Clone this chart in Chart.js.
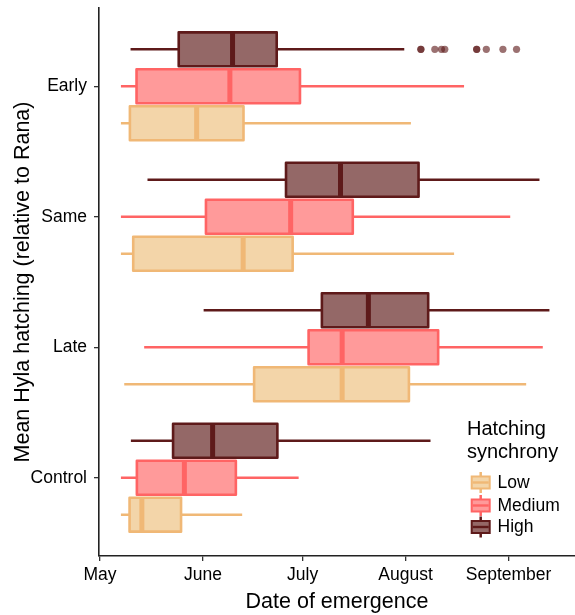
<!DOCTYPE html>
<html>
<head>
<meta charset="utf-8">
<script src="https://cdn.jsdelivr.net/npm/chart.js@4.4.1/dist/chart.umd.min.js"></script>
<style>
  html, body { margin: 0; padding: 0; background: #fff; }
  #wrap { width: 575px; height: 615px; position: relative; }
</style>
</head>
<body>
<div id="wrap"><canvas id="c" width="575" height="615"></canvas></div>
<script>
// Treatment groups, bottom to top on the y axis
const categories = ['Control', 'Late', 'Same', 'Early'];
const synchronyLevels = ['Low', 'Medium', 'High'];

// Month ticks: days since 1 May
const monthTickDays = [0, 31, 61, 92, 123];
const monthLabels = ['May', 'June', 'July', 'August', 'September'];

// Five-number summaries (days since 1 May): [lower whisker, Q1, median, Q3, upper whisker]
// one row per category, in the order of `categories`
const lowStats = [
  [6.3, 8.9, 12.6, 24.4, 42.8],
  [7.3, 46.4, 72.9, 93.0, 128.3],
  [6.3, 10.0, 43.1, 58.0, 106.6],
  [6.3, 9.0, 29.1, 43.2, 93.6]
];
const mediumStats = [
  [6.3, 11.1, 25.4, 40.9, 59.8],
  [13.3, 62.8, 72.9, 101.8, 133.3],
  [6.3, 31.9, 57.4, 76.1, 123.5],
  [6.3, 11.0, 39.1, 60.2, 109.6]
];
const highStats = [
  [9.3, 22.0, 33.9, 53.4, 99.5],
  [31.2, 66.8, 80.8, 98.8, 135.3],
  [14.3, 56.0, 72.4, 95.9, 132.3],
  [9.2, 23.7, 39.9, 53.2, 91.6]
];
// Outlying emergence dates for the High / Early group
const highEarlyOutliers = [96.6, 96.6, 100.8, 102.8, 103.8, 113.4, 113.4, 116.3, 121.3, 125.4];

const seriesStyle = {
  Low:    { fill: '#F3D5A9', line: '#F0B876', offset: -0.2835 },
  Medium: { fill: '#FF9A9A', line: '#FF6464', offset: 0 },
  High:   { fill: '#946867', line: '#5E1A1A', offset: 0.2835 }
};
const statsBySeries = { Low: lowStats, Medium: mediumStats, High: highStats };
const BOX_HALF = 0.13;
const FONT = "'Liberation Sans', Arial, sans-serif";

const boxplotPlugin = {
  id: 'boxplots',
  beforeDatasetsDraw(chart) {
    const { ctx, scales: { x, y } } = chart;
    ctx.save();
    ctx.lineJoin = 'round';
    synchronyLevels.forEach(level => {
      const st = seriesStyle[level];
      statsBySeries[level].forEach((s, i) => {
        const yc = y.getPixelForValue(i + 1 + st.offset);
        const yt = y.getPixelForValue(i + 1 + st.offset + BOX_HALF);
        const yb = y.getPixelForValue(i + 1 + st.offset - BOX_HALF);
        const [wl, q1, med, q3, wr] = s.map(v => x.getPixelForValue(v));
        // whiskers
        ctx.strokeStyle = st.line;
        ctx.lineWidth = 2.6;
        ctx.beginPath();
        ctx.moveTo(wl, yc); ctx.lineTo(q1, yc);
        ctx.moveTo(q3, yc); ctx.lineTo(wr, yc);
        ctx.stroke();
        // box
        ctx.fillStyle = st.fill;
        ctx.fillRect(q1, yt, q3 - q1, yb - yt);
        ctx.lineWidth = 2.6;
        ctx.strokeRect(q1, yt, q3 - q1, yb - yt);
        // median
        ctx.lineWidth = 5;
        ctx.beginPath();
        ctx.moveTo(med, yt); ctx.lineTo(med, yb);
        ctx.stroke();
      });
    });
    ctx.restore();
  }
};

const legendPlugin = {
  id: 'synchronyLegend',
  afterDraw(chart) {
    const { ctx } = chart;
    ctx.save();
    ctx.fillStyle = '#000';
    ctx.textBaseline = 'middle';
    ctx.textAlign = 'left';
    ctx.font = `20px ${FONT}`;
    ctx.fillText('Hatching', 467, 429);
    ctx.fillText('synchrony', 467, 452);
    const rows = [482.5, 505.5, 527];
    synchronyLevels.forEach((level, i) => {
      const st = seriesStyle[level];
      const cx = 480.7, cy = rows[i];
      ctx.strokeStyle = st.line;
      ctx.lineWidth = 2.5;
      ctx.beginPath();
      ctx.moveTo(cx, cy - 10.5); ctx.lineTo(cx, cy + 10.5);
      ctx.stroke();
      ctx.fillStyle = st.line;
      ctx.fillRect(cx - 10, cy - 7, 20, 14);
      ctx.fillStyle = st.fill;
      ctx.fillRect(cx - 8, cy - 5, 16, 10);
      ctx.fillStyle = st.line;
      ctx.fillRect(cx - 8, cy - 1.2, 16, 2.4);
      ctx.fillStyle = '#000';
      ctx.font = `17.5px ${FONT}`;
      ctx.fillText(level, 497.5, cy + 0.5);
    });
    ctx.restore();
  }
};

// Keep the plot panel flush with the layout padding (no label overhang padding)
const noOverhang = s => {
  s.paddingTop = 0; s.paddingBottom = 0; s.paddingLeft = 0; s.paddingRight = 0;
};

new Chart(document.getElementById('c'), {
  type: 'scatter',
  data: {
    datasets: [{
      label: 'High outliers',
      data: highEarlyOutliers.map(v => ({ x: v, y: 4 + seriesStyle.High.offset })),
      pointRadius: 3.6,
      pointBorderWidth: 0,
      pointBackgroundColor: 'rgba(94,26,26,0.62)',
      pointHoverRadius: 3.6
    }]
  },
  options: {
    responsive: false,
    devicePixelRatio: 1,
    animation: false,
    events: [],
    layout: { autoPadding: false, padding: { top: 8, right: 0, left: 0, bottom: 0 } },
    plugins: { legend: { display: false }, tooltip: { enabled: false } },
    scales: {
      x: {
        type: 'linear',
        min: -0.3,
        max: 143,
        afterBuildTicks: s => { s.ticks = monthTickDays.map(v => ({ value: v })); },
        afterFit: s => { s.height = 59; noOverhang(s); },
        ticks: {
          callback: (v, i) => monthLabels[i],
          font: { family: FONT, size: 17.5 },
          color: '#000',
          padding: 4,
          maxRotation: 0,
          autoSkip: false
        },
        grid: { drawOnChartArea: false, drawTicks: true, tickLength: 5, color: '#333', lineWidth: 1.3 },
        border: { display: true, color: '#222', width: 1.6 },
        title: {
          display: true,
          text: 'Date of emergence',
          font: { family: FONT, size: 21.5 },
          color: '#000',
          padding: { top: 0, bottom: 0 }
        }
      },
      y: {
        type: 'linear',
        min: 0.4,
        max: 4.6,
        afterBuildTicks: s => { s.ticks = [1, 2, 3, 4].map(v => ({ value: v })); },
        afterFit: s => { s.width = 99; noOverhang(s); },
        ticks: {
          callback: (v) => categories[v - 1],
          font: { family: FONT, size: 17.5 },
          color: '#000',
          padding: 7
        },
        grid: { drawOnChartArea: false, drawTicks: true, tickLength: 5, color: '#333', lineWidth: 1.3 },
        border: { display: true, color: '#222', width: 1.6 },
        title: {
          display: true,
          text: 'Mean Hyla hatching (relative to Rana)',
          font: { family: FONT, size: 21.5 },
          color: '#000',
          padding: { top: 10, bottom: 0 }
        }
      }
    }
  },
  plugins: [boxplotPlugin, legendPlugin]
});
</script>
</body>
</html>
